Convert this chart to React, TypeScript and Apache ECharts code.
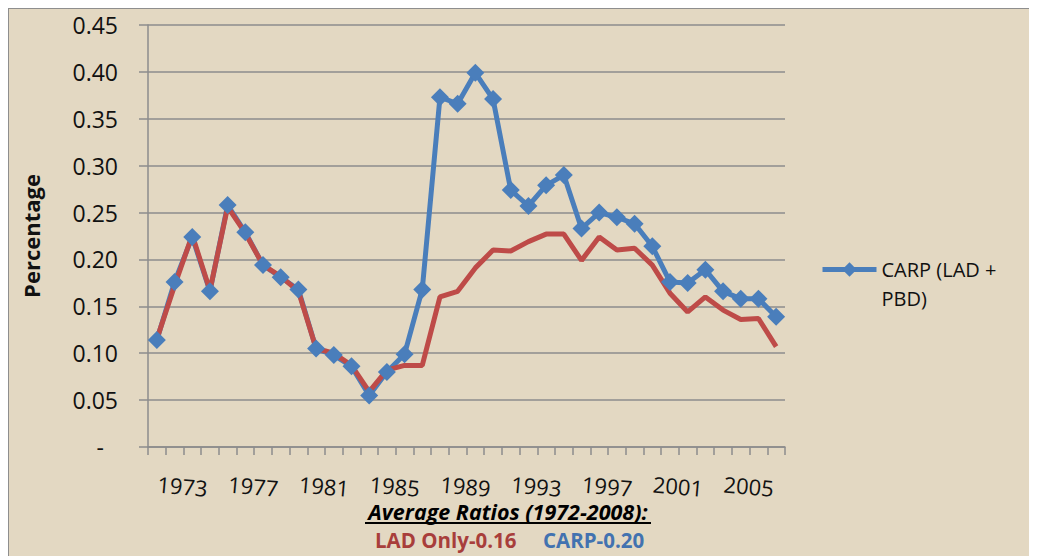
import React, { useEffect, useRef } from "react";
import * as echarts from "echarts";

const years = [
  "1972", "1973", "1974", "1975", "1976", "1977", "1978", "1979", "1980", "1981",
  "1982", "1983", "1984", "1985", "1986", "1987", "1988", "1989", "1990", "1991",
  "1992", "1993", "1994", "1995", "1996", "1997", "1998", "1999", "2000", "2001",
  "2002", "2003", "2004", "2005", "2006", "2007",
];

const carp = [
  0.114, 0.176, 0.224, 0.166, 0.258, 0.229, 0.194, 0.181, 0.168, 0.105,
  0.098, 0.086, 0.055, 0.080, 0.099, 0.168, 0.373, 0.366, 0.399, 0.371,
  0.274, 0.257, 0.279, 0.290, 0.233, 0.250, 0.245, 0.238, 0.214, 0.176,
  0.175, 0.189, 0.166, 0.158, 0.158, 0.139,
];

const ladOnly = [
  0.115, 0.172, 0.226, 0.167, 0.256, 0.228, 0.194, 0.182, 0.166, 0.105,
  0.100, 0.087, 0.059, 0.082, 0.087, 0.087, 0.160, 0.166, 0.191, 0.210,
  0.209, 0.219, 0.227, 0.227, 0.199, 0.224, 0.210, 0.212, 0.194, 0.164,
  0.144, 0.160, 0.146, 0.136, 0.137, 0.107,
];

const carpName = "CARP (LAD + PBD)";
const ladName = "LAD Only";
const averageTitle = "Average Ratios (1972-2008):";
const ladAverage = "LAD Only-0.16";
const carpAverage = "CARP-0.20";

const BLUE = "#4A7EBB";
const RED = "#BE4B48";
const GRID = "#8c8c8c";
const FONT = "'Open Sans', sans-serif";

export default function App() {
  const ref = useRef<HTMLDivElement>(null);

  useEffect(() => {
    if (!ref.current) return;
    const chart = echarts.init(ref.current, undefined, { renderer: "svg" });
    chart.setOption({
      animation: false,
      backgroundColor: "#E3D8C2",
      textStyle: { fontFamily: FONT },
      grid: { left: 140, right: 252, top: 17, bottom: 109, containLabel: false },
      legend: {
        data: [carpName],
        orient: "vertical",
        left: 807,
        top: 213,
        itemWidth: 54,
        itemHeight: 18,
        itemGap: 0,
        formatter: () => " \nCARP (LAD +\nPBD)",
        lineStyle: { width: 5 },
        textStyle: {
          fontFamily: FONT,
          fontSize: 20,
          color: "#111",
          lineHeight: 29,
        },
      },
      xAxis: {
        type: "category",
        data: years,
        boundaryGap: true,
        axisLine: { lineStyle: { color: GRID, width: 1.5 } },
        axisTick: { show: true, interval: 0, length: 8, lineStyle: { color: GRID, width: 1.5 } },
        axisLabel: {
          interval: (index: number) => index % 4 === 1,
          fontSize: 22,
          color: "#111",
          fontFamily: FONT,
          margin: 38,
          rotate: -5,
          align: "center",
          padding: [0, 0, 0, 16],
        },
        splitLine: { show: false },
      },
      yAxis: {
        type: "value",
        min: 0,
        max: 0.45,
        interval: 0.05,
        name: "Percentage",
        nameLocation: "middle",
        nameGap: 106,
        nameTextStyle: { fontFamily: FONT, fontSize: 22, fontWeight: "bold", color: "#111" },
        axisLine: { show: true, lineStyle: { color: GRID, width: 1.5 } },
        axisTick: { show: true, length: 9, lineStyle: { color: GRID, width: 1.5 } },
        axisLabel: {
          fontSize: 23,
          color: "#111",
          fontFamily: FONT,
          margin: 30,
          formatter: (v: number) => (v === 0 ? "{d|-}" : v.toFixed(2)),
          rich: { d: { fontSize: 23, color: "#111", fontFamily: FONT, padding: [0, 14, 0, 0] } },
        },
        splitLine: { show: true, lineStyle: { color: GRID, width: 1.5 } },
      },
      series: [
        {
          name: carpName,
          type: "line",
          data: carp,
          symbol: "diamond",
          symbolSize: 18,
          showAllSymbol: true,
          lineStyle: { color: BLUE, width: 5 },
          itemStyle: { color: BLUE },
        },
        {
          name: ladName,
          type: "line",
          data: ladOnly,
          symbol: "none",
          lineStyle: { color: RED, width: 5 },
          itemStyle: { color: RED },
        },
      ],
      graphic: [
        { type: "line", shape: { x1: 0, y1: 0, x2: 1029, y2: 0 }, style: { stroke: "#8e8e8e", lineWidth: 2 } },
        { type: "line", shape: { x1: 0, y1: 0, x2: 0, y2: 548 }, style: { stroke: "#8e8e8e", lineWidth: 2 } },
        {
          type: "text",
          x: 500,
          y: 503,
          style: {
            text: averageTitle,
            fontFamily: FONT,
            fontSize: 21.5,
            fontWeight: "bold",
            fontStyle: "italic",
            fill: "#000",
            align: "center",
            verticalAlign: "middle",
          },
        },
        { type: "line", shape: { x1: 357, y1: 515, x2: 643, y2: 515 }, style: { stroke: "#000", lineWidth: 2 } },
        {
          type: "text",
          x: 367,
          y: 532,
          style: {
            text: ladAverage,
            fontFamily: FONT,
            fontSize: 20.5,
            fontWeight: "bold",
            fill: "#A83E3B",
            align: "left",
            verticalAlign: "middle",
          },
        },
        {
          type: "text",
          x: 535,
          y: 532,
          style: {
            text: carpAverage,
            fontFamily: FONT,
            fontSize: 20.5,
            fontWeight: "bold",
            fill: "#4272B0",
            align: "left",
            verticalAlign: "middle",
          },
        },
      ],
    });
    return () => chart.dispose();
  }, []);

  return <div ref={ref} style={{ width: 1029, height: 548 }} />;
}
